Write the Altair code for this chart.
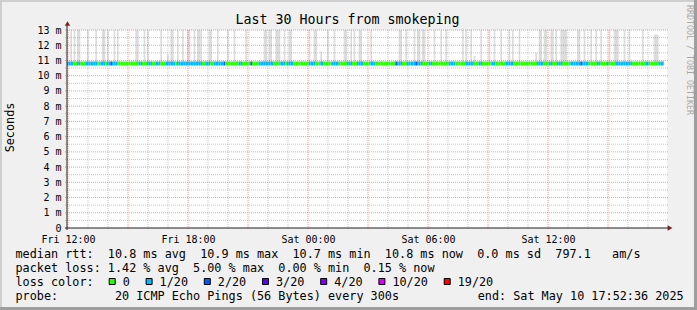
import altair as alt
import pandas as pd

FONT = "DejaVu Sans Mono"
NB = "\u00a0"

# ---- time frame: last 30 hours, 5-minute steps ----
start = pd.Timestamp("2025-05-09 11:57:00")
step = pd.Timedelta(minutes=5)

# ---- loss colours (smokeping defaults for 20 pings) ----
loss_levels = ["0", "1/20", "2/20", "3/20", "4/20", "10/20", "19/20"]
loss_colors = ["#26ff00", "#00b8ff", "#0059ff", "#5e00ff", "#7e00ff", "#dd00ff", "#ff0000"]

# median rtt line: runs of (loss level, number of 5-minute steps, median ms)
median_runs = [
    ("1/20", 4, 10.8), ("0", 2, 10.8), ("1/20", 2, 10.8), ("0", 3, 10.8), ("1/20", 7, 10.8),
    ("0", 2, 10.8), ("1/20", 3, 10.8), ("0", 1, 10.8), ("1/20", 2, 10.8), ("2/20", 1, 10.8),
    ("1/20", 3, 10.8), ("0", 13, 10.8), ("1/20", 2, 10.8), ("0", 3, 10.8), ("1/20", 3, 10.8),
    ("0", 2, 10.8), ("1/20", 3, 10.8), ("0", 3, 10.8), ("1/20", 6, 10.8), ("0", 1, 10.8),
    ("1/20", 15, 10.8), ("0", 2, 10.8), ("1/20", 3, 10.8), ("0", 2, 10.8),
    ("1/20", 6, 10.8), ("2/20", 1, 10.8), ("0", 8, 10.8), ("1/20", 2, 10.8), ("0", 5, 10.8),
    ("2/20", 1, 10.8), ("0", 4, 10.8), ("1/20", 9, 10.8), ("0", 4, 10.8), ("1/20", 3, 10.8),
    ("0", 1, 10.8), ("1/20", 4, 10.8), ("0", 9, 10.8), ("1/20", 4, 10.8), ("0", 3, 10.8),
    ("1/20", 2, 10.8), ("0", 5, 10.8), ("1/20", 4, 10.8), ("0", 5, 10.8), ("1/20", 3, 10.8),
    ("0", 3, 10.8), ("1/20", 4, 10.8), ("0", 2, 10.8),
    ("0", 2, 10.8), ("1/20", 3, 10.8), ("0", 12, 10.8), ("2/20", 1, 10.8), ("1/20", 3, 10.8),
    ("0", 3, 10.8), ("1/20", 5, 10.8), ("2/20", 1, 10.8), ("1/20", 3, 10.8), ("0", 4, 10.8),
    ("1/20", 2, 10.8), ("0", 10, 10.8), ("1/20", 4, 10.8), ("0", 6, 10.8), ("1/20", 5, 10.8),
    ("0", 3, 10.8), ("1/20", 2, 10.8), ("0", 6, 10.8), ("1/20", 2, 10.8), ("0", 6, 10.8),
    ("1/20", 5, 10.8), ("0", 2, 10.8),
    ("0", 12, 10.8), ("1/20", 4, 10.8), ("0", 3, 10.8), ("1/20", 2, 10.8), ("0", 3, 10.8),
    ("1/20", 3, 10.8), ("0", 5, 10.8), ("1/20", 6, 10.8), ("2/20", 1, 10.8), ("1/20", 4, 10.8),
    ("0", 5, 10.8), ("1/20", 2, 10.8), ("0", 4, 10.8), ("1/20", 1, 10.8), ("0", 4, 10.8),
    ("1/20", 10, 10.8), ("0", 8, 10.8), ("1/20", 2, 10.8), ("0", 6, 10.8), ("1/20", 3, 10.8),
]

# smoke (spread of the 20 pings): (first step, number of steps, top ms)
smoke_bars = [
    (2, 1, 15), (4, 1, 15), (6, 2, 15), (12, 1, 15), (17, 1, 15), (21, 2, 15), (24, 1, 15),
    (28, 1, 15), (30, 1, 15), (41, 2, 15), (46, 1, 15), (48, 1, 15), (56, 1, 15), (60, 1, 11.4),
    (62, 2, 15), (66, 1, 15), (69, 1, 15), (72, 2, 15), (76, 1, 15), (78, 2, 15), (80, 1, 15),
    (85, 2, 15), (90, 1, 15), (96, 1, 15), (100, 1, 15), (107, 1, 15), (118, 2, 15), (121, 2, 15),
    (125, 3, 15), (130, 1, 15), (133, 2, 15), (145, 1, 15), (148, 2, 15), (152, 1, 11.6),
    (156, 1, 15), (160, 1, 15), (166, 2, 15), (170, 1, 15), (172, 1, 15), (175, 2, 15),
    (182, 1, 15), (199, 2, 15), (203, 1, 15), (208, 1, 15), (210, 2, 15), (213, 2, 15),
    (220, 1, 15), (224, 1, 15), (227, 1, 15), (237, 1, 15), (239, 1, 15), (242, 1, 15),
    (244, 1, 11.3), (248, 1, 15), (253, 1, 15), (256, 1, 15), (260, 1, 15), (265, 1, 15),
    (267, 1, 15), (271, 1, 15), (281, 1, 11.5), (283, 2, 15), (286, 2, 15), (290, 2, 15),
    (293, 1, 15), (296, 4, 15), (306, 2, 15), (310, 1, 15), (314, 1, 15), (317, 1, 15),
    (320, 1, 15), (325, 1, 15), (328, 3, 15), (334, 1, 15), (337, 1, 15), (345, 1, 15),
    (352, 3, 12.7),
]

y_label_values = list(range(0, 14))
text_title = "Last 30 Hours from smokeping"
text_ytitle = "Seconds"
text_watermark = "RRDTOOL / TOBI OETIKER"
text_lines = [
    "median rtt:  10.8 ms avg  10.9 ms max  10.7 ms min  10.8 ms now  0.0 ms sd  797.1   am/s",
    "packet loss: 1.42 % avg  5.00 % max  0.00 % min  0.15 % now",
    "loss color:",
    "probe:        20 ICMP Echo Pings (56 Bytes) every 300s",
]
text_end = "end: Sat May 10 17:52:36 2025"

# layout constants (pixels, relative to the plot origin)
CHAR_W = 7.1            # advance of one monospace legend character
LEG_X0 = 41.7           # left edge of the first legend square
LEG_Y = 251.5           # vertical centre of legend squares
LEG_GAP = 29.8          # square + gaps per legend entry


def iso(ts):
    return ts.strftime("%Y-%m-%dT%H:%M:%SZ")


def nb(s):
    return s.replace(" ", NB)


# ---- build tables ----
rows = []
i = 0
for loss, n, med in median_runs:
    for _ in range(n):
        rows.append({"t": iso(start + i * step), "t2": iso(start + (i + 1) * step),
                     "loss": loss, "median": med})
        i += 1
median_df = pd.DataFrame(rows)

smoke_rows = []
for s0, n, top in smoke_bars:
    smoke_rows.append({"t": iso(start + s0 * step), "t2": iso(start + (s0 + n) * step),
                       "bottom": median_df["median"].iloc[min(s0, len(median_df) - 1)],
                       "top": top})
smoke_df = pd.DataFrame(smoke_rows)

hours = pd.date_range("2025-05-09 12:00", "2025-05-10 17:00", freq="h")
vgrid_df = pd.DataFrame({"t": [iso(h) for h in hours], "major": [h.hour % 3 == 0 for h in hours]})
hgrid_df = pd.DataFrame({"v": [k / 2 for k in range(1, 27)]})
hgrid_df["major"] = hgrid_df["v"] % 1 == 0

# legend entries laid out like rrdtool's monospace legend line
leg_rows = []
xpos = LEG_X0
for lvl in loss_levels:
    leg_rows.append({"loss": lvl, "sx": xpos + 3.5, "lx": xpos + 14.0})
    xpos += LEG_GAP + CHAR_W * len(lvl)
leg_df = pd.DataFrame(leg_rows)


def dt(d, h, m=0):
    return alt.DateTime(year=2025, month=5, date=d, hours=h, minutes=m, utc=True)


xscale = alt.Scale(type="utc", domain=[dt(9, 11, 57), dt(10, 17, 57)])
yscale = alt.Scale(domain=[0, 13], nice=False, zero=True)
cscale = alt.Scale(domain=loss_levels, range=loss_colors)

xaxis = alt.Axis(values=[dt(9, 12), dt(9, 18), dt(10, 0), dt(10, 6), dt(10, 12)],
                 format="%a %H:%M", title=None, grid=False, domain=False, ticks=False,
                 labelFont=FONT, labelFontSize=10, labelColor="black", labelPadding=6,
                 labelFlush=False, labelOverlap=False, labelBound=False)
yaxis = alt.Axis(values=y_label_values, title=None, grid=False, domain=False, ticks=False,
                 labelExpr="datum.value == 0 ? '0" + NB + NB + "' : datum.value + '" + NB + "m'",
                 labelFont=FONT, labelFontSize=10, labelColor="black", labelPadding=6,
                 labelFlush=False, labelOverlap=False, labelBound=False)


def X(field):
    return alt.X(field, scale=xscale, axis=xaxis)


def Y(field):
    return alt.Y(field, scale=yscale, axis=yaxis)


deco = alt.Data(values=[{"k": 1}])

smoke = alt.Chart(smoke_df).mark_rect(color="#dcdcdc", clip=True).encode(
    x=X("t:T"), x2="t2:T", y=Y("bottom:Q"), y2="top:Q")

vgrid_minor = alt.Chart(vgrid_df).transform_filter("!datum.major").mark_rule(
    color="#8f8f8f", opacity=0.5, strokeDash=[1, 1], strokeWidth=1).encode(
    x=X("t:T"), y=alt.value(0), y2=alt.value(200))
vgrid_major = alt.Chart(vgrid_df).transform_filter("datum.major").mark_rule(
    color="#de4f4f", opacity=0.55, strokeDash=[1, 1], strokeWidth=1).encode(
    x=X("t:T"), y=alt.value(0), y2=alt.value(200))
hgrid_minor = alt.Chart(hgrid_df).transform_filter("!datum.major").mark_rule(
    color="#8f8f8f", opacity=0.5, strokeDash=[1, 1], strokeWidth=1).encode(
    y=Y("v:Q"), x=alt.value(-2), x2=alt.value(601))
hgrid_major = alt.Chart(hgrid_df).transform_filter("datum.major").mark_rule(
    color="#de4f4f", opacity=0.55, strokeDash=[1, 1], strokeWidth=1).encode(
    y=Y("v:Q"), x=alt.value(-2), x2=alt.value(601))

median = alt.Chart(median_df).mark_rule(strokeWidth=4, strokeCap="butt").encode(
    x=X("t:T"), x2="t2:T", y=Y("median:Q"),
    color=alt.Color("loss:N", scale=cscale, legend=None))

# loss colour legend: bordered squares coloured through the same scale, plus labels
leg_squares = alt.Chart(leg_df).mark_square(
    filled=True, stroke="black", strokeWidth=1, opacity=1, size=36).encode(
    x=alt.X("sx:Q", scale=None), y=alt.value(LEG_Y),
    color=alt.Color("loss:N", scale=cscale, legend=None))
leg_labels = alt.Chart(leg_df).mark_text(
    align="left", baseline="alphabetic", font=FONT, fontSize=11.8, color="black").encode(
    x=alt.X("lx:Q", scale=None), y=alt.value(256.1), text="loss:N")

# axis lines and arrows
x_axis_line = alt.Chart(deco).mark_rule(color="#1f1f1f", strokeWidth=1).encode(
    x=alt.value(-2), x2=alt.value(601), y=alt.value(198))
y_axis_line = alt.Chart(deco).mark_rule(color="#1f1f1f", strokeWidth=1).encode(
    y=alt.value(-6), y2=alt.value(200), x=alt.value(0))
arrow_up = alt.Chart(deco).mark_point(shape="triangle-up", filled=True, color="#801f1f",
                                      opacity=1, size=30).encode(
    x=alt.value(0.5), y=alt.value(-6.5))
arrow_right = alt.Chart(deco).mark_point(shape="triangle-right", filled=True, color="#801f1f",
                                         opacity=1, size=30).encode(
    x=alt.value(603), y=alt.value(198))


# frame (3D border of rrdtool)
def band(x0, x1, y0, y1, col):
    return alt.Chart(deco).mark_rect(color=col, opacity=1).encode(
        x=alt.value(x0), x2=alt.value(x1), y=alt.value(y0), y2=alt.value(y1))


frame = [
    band(-67, 630, -30, -28, "#cfcfcf"),
    band(-67, -65, -30, 280, "#cfcfcf"),
    band(627, 630, -30, 280, "#9e9e9e"),
    band(-67, 630, 277, 280, "#9e9e9e"),
]


def txt(s, x, y, size=11.8, align="left", baseline="alphabetic", angle=0, color="black"):
    kw = dict(align=align, baseline=baseline, font=FONT, fontSize=size, color=color)
    if angle:
        kw["angle"] = angle
    return alt.Chart(deco).mark_text(**kw).encode(
        x=alt.value(x), y=alt.value(y), text=alt.value(nb(s)))


texts = [
    txt(text_title, 280.5, -6, size=13.3, align="center"),
    txt(text_ytitle, -57, 97.5, size=11.8, align="center", baseline="middle", angle=270),
    txt(text_watermark, 622, 30, size=8.3, align="center", baseline="middle", angle=90,
        color="#a8a8a8"),
    txt(text_lines[0], -51.5, 228.3),
    txt(text_lines[1], -51.5, 242.2),
    txt(text_lines[2], -51.5, 256.1),
    txt(text_lines[3], -51.5, 270),
    txt(text_end, 410.7, 270),
]

chart = alt.layer(
    *frame, smoke, vgrid_minor, hgrid_minor, vgrid_major, hgrid_major, median,
    x_axis_line, y_axis_line, arrow_up, arrow_right, leg_squares, leg_labels, *texts
).properties(
    width=600, height=198,
    padding={"left": 67, "top": 30, "right": 30, "bottom": 82},
    autosize=alt.AutoSizeParams(type="none"),
).configure(background="#f0f0f0").configure_view(fill="white", stroke=None)

chart.save("out.html", embed_options={"renderer": "svg", "actions": False})
